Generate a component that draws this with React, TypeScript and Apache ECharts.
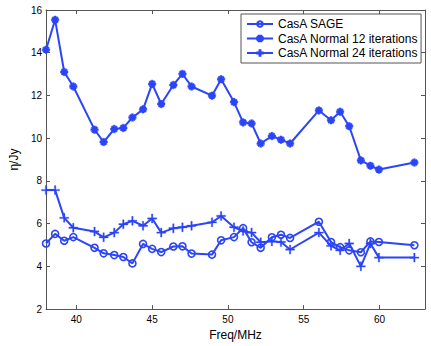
import React, { useEffect, useRef } from "react";
import * as echarts from "echarts";

const freq = [38.0, 38.6, 39.2, 39.8, 41.2, 41.8, 42.5, 43.1, 43.7, 44.4, 45.0, 45.6, 46.4, 47.0, 47.6, 48.95, 49.55, 50.4, 51.0, 51.56, 52.16, 52.9, 53.5, 54.1, 56.0, 56.8, 57.4, 58.0, 58.77, 59.4, 59.96, 62.3];
const sage = [5.07, 5.52, 5.2, 5.37, 4.87, 4.61, 4.53, 4.44, 4.14, 5.05, 4.82, 4.67, 4.93, 4.94, 4.6, 4.55, 5.22, 5.37, 5.79, 5.13, 4.87, 5.36, 5.48, 5.33, 6.09, 5.14, 4.9, 4.75, 4.66, 5.17, 5.14, 4.99];
const normal12 = [14.14, 15.54, 13.1, 12.42, 10.4, 9.82, 10.43, 10.48, 10.97, 11.35, 12.54, 11.6, 12.49, 13.01, 12.42, 11.99, 12.76, 11.69, 10.74, 10.69, 9.75, 10.1, 9.93, 9.75, 11.3, 10.84, 11.24, 10.56, 8.96, 8.71, 8.53, 8.86];
const normal24 = [7.57, 7.57, 6.27, 5.81, 5.63, 5.36, 5.58, 5.97, 6.13, 5.9, 6.24, 5.58, 5.78, 5.83, 5.9, 6.06, 6.36, 5.83, 5.66, 5.58, 5.13, 5.17, 5.14, 4.79, 5.58, 4.96, 4.75, 5.07, 4.0, 5.07, 4.41, 4.41];
const seriesNames = ["CasA SAGE", "CasA Normal 12 iterations", "CasA Normal 24 iterations"];
const xTicks = [40, 45, 50, 55, 60];

const BLUE = "#2b45f7";
const FRAME = "#555555";
const FONT = "Liberation Sans, Arial, Helvetica, sans-serif";

const plusPath = "path://M-0.8,-5 L0.8,-5 L0.8,-0.8 L5,-0.8 L5,0.8 L0.8,0.8 L0.8,5 L-0.8,5 L-0.8,0.8 L-5,0.8 L-5,-0.8 L-0.8,-0.8 Z";
const starPath = "path://M-1.3,-5 L1.3,-5 L1.3,-1.3 L5,-1.3 L5,1.3 L1.3,1.3 L1.3,5 L-1.3,5 L-1.3,1.3 L-5,1.3 L-5,-1.3 L-1.3,-1.3 Z M-4.4,-2.6 L-2.6,-4.4 L4.4,2.6 L2.6,4.4 Z M2.6,-4.4 L4.4,-2.6 L-2.6,4.4 L-4.4,2.6 Z";

function pairs(ys: number[]) {
  return freq.map((x, i) => [x, ys[i]]);
}

export default function App() {
  const ref = useRef<HTMLDivElement>(null);
  useEffect(() => {
    if (!ref.current) return;
    const chart = echarts.init(ref.current, null, { renderer: "svg" });
    const axisCommon = {
      axisLine: { show: true, lineStyle: { color: FRAME, width: 1 } },
      splitLine: { show: false },
    };
    chart.setOption({
      animation: false,
      backgroundColor: "#ffffff",
      grid: { left: 37, right: 6, top: 10, bottom: 30, containLabel: false },
      legend: {
        orient: "vertical",
        left: 241,
        top: 14,
        padding: [4, 3, 4, 5],
        itemGap: 2.5,
        itemWidth: 26,
        itemHeight: 7,
        backgroundColor: "#ffffff",
        borderColor: FRAME,
        borderWidth: 1,
        borderRadius: 0,
        textStyle: { fontFamily: FONT, fontSize: 12, color: "#000", lineHeight: 12 },
        data: seriesNames,
      },
      xAxis: [
        {
          type: "value",
          min: 38,
          max: 63,
          position: "bottom",
          ...axisCommon,
          axisTick: { show: true, inside: true, length: 4, lineStyle: { color: FRAME }, customValues: xTicks },
          axisLabel: { show: true, margin: 5, fontFamily: FONT, fontSize: 10, color: "#000", customValues: xTicks },
          name: "Freq/MHz",
          nameLocation: "middle",
          nameGap: 14,
          nameTextStyle: { fontFamily: FONT, fontSize: 12, color: "#000" },
        },
        {
          type: "value",
          min: 38,
          max: 63,
          position: "top",
          ...axisCommon,
          axisTick: { show: true, inside: true, length: 4, lineStyle: { color: FRAME }, customValues: xTicks },
          axisLabel: { show: false },
        },
      ],
      yAxis: [
        {
          type: "value",
          min: 2,
          max: 16,
          interval: 2,
          position: "left",
          ...axisCommon,
          axisTick: { show: true, inside: true, length: 4, lineStyle: { color: FRAME } },
          axisLabel: { show: true, margin: 4, fontFamily: FONT, fontSize: 10, color: "#000" },
          name: "η/Jy",
          nameLocation: "middle",
          nameGap: 19,
          nameRotate: 90,
          nameTextStyle: { fontFamily: FONT, fontSize: 12, color: "#000" },
        },
        {
          type: "value",
          min: 2,
          max: 16,
          interval: 2,
          position: "right",
          ...axisCommon,
          axisTick: { show: true, inside: true, length: 4, lineStyle: { color: FRAME } },
          axisLabel: { show: false },
        },
      ],
      series: [
        {
          name: seriesNames[0],
          type: "line",
          data: pairs(sage),
          symbol: "circle",
          symbolSize: 7,
          showAllSymbol: true,
          lineStyle: { color: BLUE, width: 2 },
          itemStyle: { color: "rgba(255,255,255,0)", borderColor: BLUE, borderWidth: 1.6 },
        },
        {
          name: seriesNames[1],
          type: "line",
          data: pairs(normal12),
          symbol: starPath,
          symbolSize: 7.5,
          showAllSymbol: true,
          lineStyle: { color: BLUE, width: 2 },
          itemStyle: { color: BLUE, borderColor: BLUE, borderWidth: 0.5 },
        },
        {
          name: seriesNames[2],
          type: "line",
          data: pairs(normal24),
          symbol: plusPath,
          symbolSize: 9,
          showAllSymbol: true,
          lineStyle: { color: BLUE, width: 2 },
          itemStyle: { color: BLUE, borderColor: BLUE, borderWidth: 0.3 },
        },
      ],
    });
    return () => chart.dispose();
  }, []);
  return (
    <div
      ref={ref}
      style={{ position: "fixed", left: 0, top: 0, width: 431, height: 346, background: "#fff" }}
    />
  );
}
